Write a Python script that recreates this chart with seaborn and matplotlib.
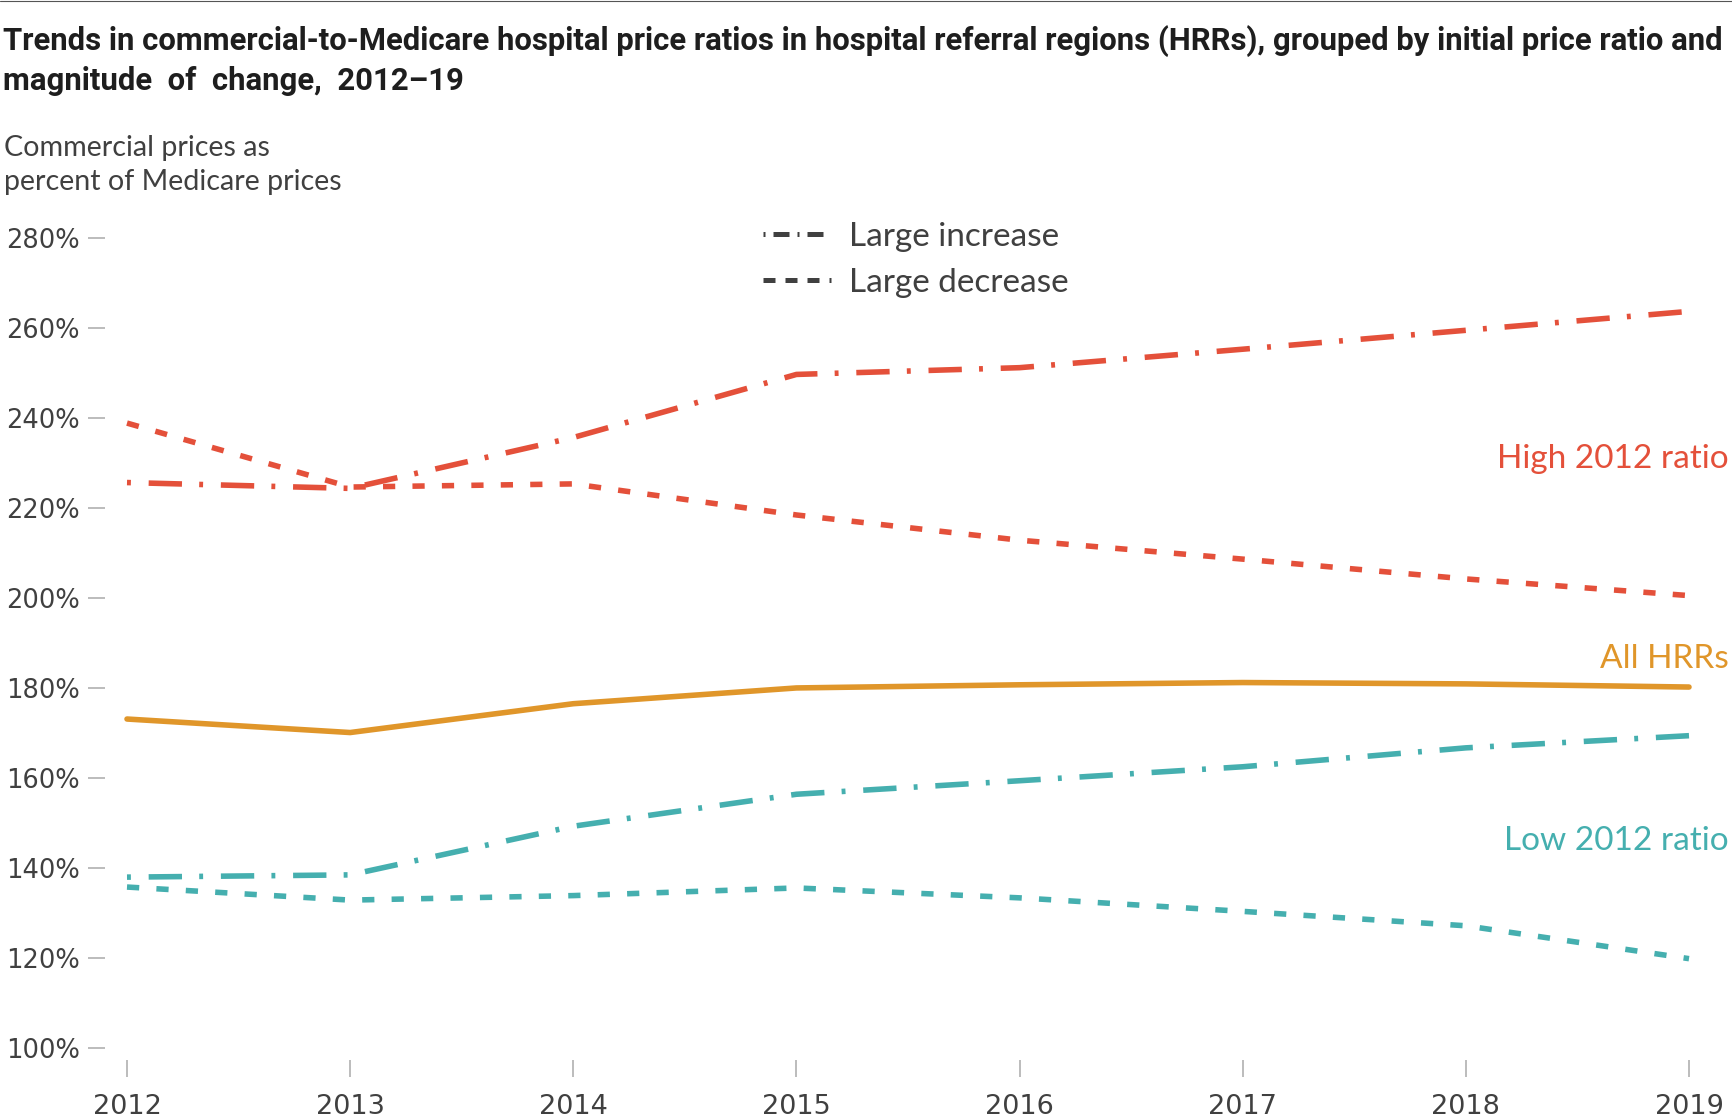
import matplotlib
matplotlib.use("Agg")
import matplotlib.pyplot as plt
from matplotlib.lines import Line2D
import seaborn as sns
import pandas as pd

# ---- data ----
years = [2012, 2013, 2014, 2015, 2016, 2017, 2018, 2019]
high_increase = [225.6, 224.3, 235.6, 249.6, 251.1, 255.2, 259.4, 263.6]
high_decrease = [238.8, 224.6, 225.3, 218.4, 212.8, 208.6, 204.2, 200.5]
all_hrrs      = [173.1, 170.1, 176.5, 180.0, 180.7, 181.2, 180.9, 180.2]
low_increase  = [138.0, 138.5, 149.3, 156.4, 159.4, 162.5, 166.7, 169.4]
low_decrease  = [135.8, 132.9, 133.9, 135.6, 133.4, 130.4, 127.2, 119.9]
y_ticks = [100, 120, 140, 160, 180, 200, 220, 240, 260, 280]
y_tick_labels = [f"{v}%" for v in y_ticks]

title = ("Trends in commercial-to-Medicare hospital price ratios in hospital referral regions (HRRs), grouped by initial price ratio and\n"
         "magnitude  of  change,  2012–19")
ylabel = "Commercial prices as\npercent of Medicare prices"

RED = "#E4503A"
ORANGE = "#E0962A"
TEAL = "#45AFAF"
TXT = "#404040"
TICK = "#B0B0B0"

sns.set_theme(style="white")
plt.rcParams['font.family'] = ['DejaVu Sans']

W, H = 1732, 1119
fig = plt.figure(figsize=(W / 100, H / 100), dpi=100)
fig.patch.set_facecolor("white")

def fx(px):
    return px / W

def fy(py):
    return 1 - py / H

left, right = 127, 1689
top, bottom = 237.5, 1048.3
ax = fig.add_axes([fx(left), fy(bottom), (right - left) / W, (bottom - top) / H])
ax.set_facecolor("white")

df = pd.DataFrame({
    "year": years * 5,
    "value": high_increase + high_decrease + all_hrrs + low_increase + low_decrease,
    "series": (["hi_inc"] * 8 + ["hi_dec"] * 8 + ["all"] * 8 + ["lo_inc"] * 8 + ["lo_dec"] * 8),
})

LW = 4.0
dashdot = (0, (0.7, 3.2, 6.0, 3.1))
dashed = (0, (2.2, 3.1))
styles = {
    "hi_inc": (RED, dashdot),
    "hi_dec": (RED, dashed),
    "all": (ORANGE, "-"),
    "lo_inc": (TEAL, dashdot),
    "lo_dec": (TEAL, dashed),
}
for key, (col, ls) in styles.items():
    sub = df[df["series"] == key]
    sns.lineplot(data=sub, x="year", y="value", color=col, linewidth=LW,
                 linestyle=ls, ax=ax, clip_on=False, legend=False)

ax.set_xlim(2012, 2019)
ax.set_ylim(100, 280)
ax.set_xticks(years)
ax.set_xticklabels([str(y) for y in years])
ax.set_yticks(y_ticks)
ax.set_yticklabels(y_tick_labels)
ax.set_xlabel("")
ax.set_ylabel("")
ax.grid(False)
for s in ["top", "right"]:
    ax.spines[s].set_visible(False)
ax.spines["bottom"].set_position(("outward", 8.6))
ax.spines["left"].set_position(("outward", 16))
ax.spines["bottom"].set_color("none")
ax.spines["left"].set_color("none")
ax.tick_params(axis="x", direction="out", length=12, width=1.2, color=TICK,
               pad=12, labelsize=19.5, labelcolor=TXT)
ax.tick_params(axis="y", direction="out", length=12, width=1.2, color=TICK,
               pad=6, labelsize=18.5, labelcolor=TXT)
ax.tick_params(bottom=True, left=True)

# legend
h1 = Line2D([], [], color=TXT, lw=3.6, linestyle=(0, (0.4, 1.6, 3.2, 1.6)))
h2 = Line2D([], [], color=TXT, lw=3.6, linestyle=(0, (2.4, 2.0)))
leg = fig.legend([h1, h2], ["Large increase", "Large decrease"],
                 loc="upper left", bbox_to_anchor=(fx(746), fy(205)),
                 frameon=False, borderpad=0, handlelength=2.05, handletextpad=0.55,
                 labelspacing=0.48,
                 prop={"family": ["Lato", "DejaVu Sans"], "size": 24})
for t in leg.get_texts():
    t.set_color(TXT)

# series labels
lab_font = ["Lato", "DejaVu Sans"]
fig.text(fx(1729), fy(459.5), "High 2012 ratio", color=RED, ha="right", va="center",
         fontsize=24, family=lab_font)
fig.text(fx(1729), fy(659.5), "All HRRs", color=ORANGE, ha="right", va="center",
         fontsize=24, family=lab_font)
fig.text(fx(1729), fy(840.6), "Low 2012 ratio", color=TEAL, ha="right", va="center",
         fontsize=24, family=lab_font)

# y label
fig.text(fx(4), fy(135), ylabel, color=TXT, ha="left", va="top", fontsize=20.6,
         family=lab_font, linespacing=1.4)

# title
tt = fig.text(fx(3), fy(25), title, color="#1E1E1E", ha="left", va="top",
              fontsize=22, fontweight="bold", linespacing=1.38,
              family=["Liberation Sans Narrow", "Roboto", "DejaVu Sans"])

fig.canvas.draw()
r = fig.canvas.get_renderer()
w = tt.get_window_extent(r).width
tt.set_fontsize(22 * 1726 / w)

fig.add_artist(Line2D([0, 1], [fy(0.5), fy(0.5)], color="#555555", lw=0.8))

fig.savefig("out.png", dpi=100, facecolor="white")
